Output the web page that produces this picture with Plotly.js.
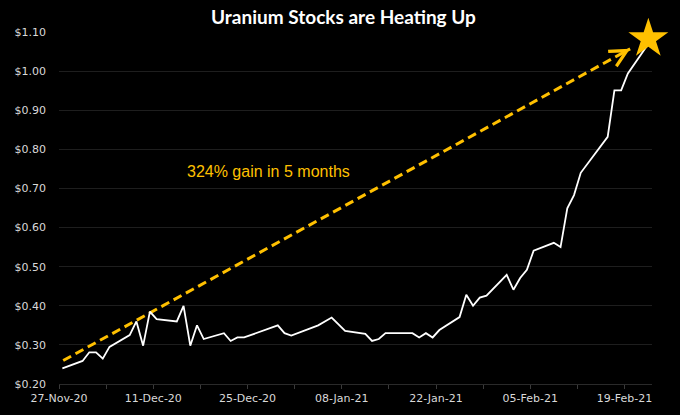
<!DOCTYPE html>
<html>
<head>
<meta charset="utf-8">
<script src="https://cdn.plot.ly/plotly-3.0.1.min.js"></script>
<style>html,body{margin:0;padding:0;background:#000;}#chart{width:680px;height:415px;}</style>
</head>
<body>
<div id="chart"></div>
<script>
// Trading dates and closing prices (USD)
const dates = [
  '2020-11-27','2020-11-30','2020-12-01','2020-12-02','2020-12-03','2020-12-04',
  '2020-12-07','2020-12-08','2020-12-09','2020-12-10','2020-12-11',
  '2020-12-14','2020-12-15','2020-12-16','2020-12-17','2020-12-18',
  '2020-12-21','2020-12-22','2020-12-23','2020-12-24',
  '2020-12-29','2020-12-30','2020-12-31',
  '2021-01-04','2021-01-06','2021-01-08',
  '2021-01-11','2021-01-12','2021-01-13','2021-01-14','2021-01-15',
  '2021-01-18','2021-01-19','2021-01-20','2021-01-21','2021-01-22',
  '2021-01-25','2021-01-26','2021-01-27','2021-01-28','2021-01-29',
  '2021-02-01','2021-02-02','2021-02-03','2021-02-04','2021-02-05',
  '2021-02-08','2021-02-09','2021-02-10','2021-02-11','2021-02-12',
  '2021-02-16','2021-02-17','2021-02-18','2021-02-19',
  '2021-02-22'
];
const prices = [
  0.240,0.259,0.281,0.281,0.265,0.295,
  0.325,0.360,0.298,0.385,0.366,
  0.360,0.400,0.298,0.350,0.315,
  0.330,0.310,0.319,0.319,
  0.350,0.330,0.324,
  0.350,0.370,0.336,
  0.328,0.310,0.315,0.330,0.330,
  0.330,0.319,0.330,0.319,0.338,
  0.371,0.428,0.400,0.421,0.426,
  0.479,0.441,0.471,0.492,0.541,
  0.561,0.550,0.649,0.683,0.740,
  0.832,0.951,0.951,0.994,
  1.069
];
// Trend arrow (start, tip) and star marker
const arrowX = ['2020-11-27 15:00','2021-02-19 20:00'];
const arrowY = [0.260, 1.057];
const starX = ['2021-02-22 13:00'];
const starY = [1.083];
const xRange = ['2020-11-27 00:00','2021-02-23 02:00'];
const yRange = [0.2, 1.1001];
const titleText = 'Uranium Stocks are Heating Up';
const noteText = '324% gain in 5 months';

const gold = '#FFC000';
const xs = dates.map(d => d + ' 12:00');

const traces = [
  {
    x: arrowX, y: arrowY, type: 'scatter', mode: 'lines',
    line: {color: gold, width: 3, dash: '9px,5px'},
    hoverinfo: 'skip', showlegend: false
  },
  {
    x: xs, y: prices, type: 'scatter', mode: 'lines',
    line: {color: '#ffffff', width: 1.8},
    hoverinfo: 'skip', showlegend: false
  },
  {
    x: starX, y: starY, type: 'scatter', mode: 'markers',
    cliponaxis: false,
    marker: {symbol: 'star', size: 30, color: gold, line: {width: 0}},
    hoverinfo: 'skip', showlegend: false
  }
];

const tickFont = {family: 'DejaVu Sans, Verdana, sans-serif', size: 11, color: '#d9d9d9'};

const layout = {
  width: 680, height: 415,
  paper_bgcolor: '#000000', plot_bgcolor: '#000000',
  margin: {l: 59, r: 28, t: 32, b: 31},
  showlegend: false,
  hovermode: false,
  title: {
    text: '<b>' + titleText + '</b>',
    font: {family: 'Lato, Open Sans, sans-serif', size: 19, color: '#ffffff'},
    x: 0.4797, xanchor: 'center', xref: 'paper',
    y: 0.957, yanchor: 'middle', yref: 'container'
  },
  xaxis: {
    type: 'date', range: xRange,
    tick0: '2020-11-27', dtick: 14 * 86400000,
    tickformat: '%d-%b-%y',
    ticks: 'outside', ticklen: 4, tickcolor: '#3a3a3a', tickwidth: 1,
    minor: {dtick: 7 * 86400000, tick0: '2020-11-27', ticks: 'outside', ticklen: 4, tickcolor: '#3a3a3a', showgrid: false},
    showgrid: false, zeroline: false,
    showline: true, linecolor: '#2a2a2a', linewidth: 1,
    tickfont: tickFont, fixedrange: true
  },
  yaxis: {
    range: yRange, tick0: 0.2, dtick: 0.1,
    tickprefix: '$', tickformat: '.2f',
    showgrid: true, gridcolor: '#1e1e1e', gridwidth: 1,
    zeroline: false, showline: false, ticks: '',
    ticklabelstandoff: 12,
    tickfont: tickFont, fixedrange: true
  },
  annotations: [
    {
      xref: 'paper', yref: 'paper', x: 0.354, y: 0.605,
      text: noteText, showarrow: false,
      font: {family: 'Liberation Sans, Arial, sans-serif', size: 16, color: gold},
      xanchor: 'center', yanchor: 'middle'
    },
    {
      xref: 'x', yref: 'y', x: arrowX[1], y: arrowY[1],
      axref: 'pixel', ayref: 'pixel', ax: -9, ay: 5,
      showarrow: true, arrowhead: 5, arrowsize: 1.1, arrowwidth: 3,
      arrowcolor: gold, text: ''
    }
  ]
};

Plotly.newPlot('chart', traces, layout, {displayModeBar: false, staticPlot: true});
</script>
</body>
</html>
